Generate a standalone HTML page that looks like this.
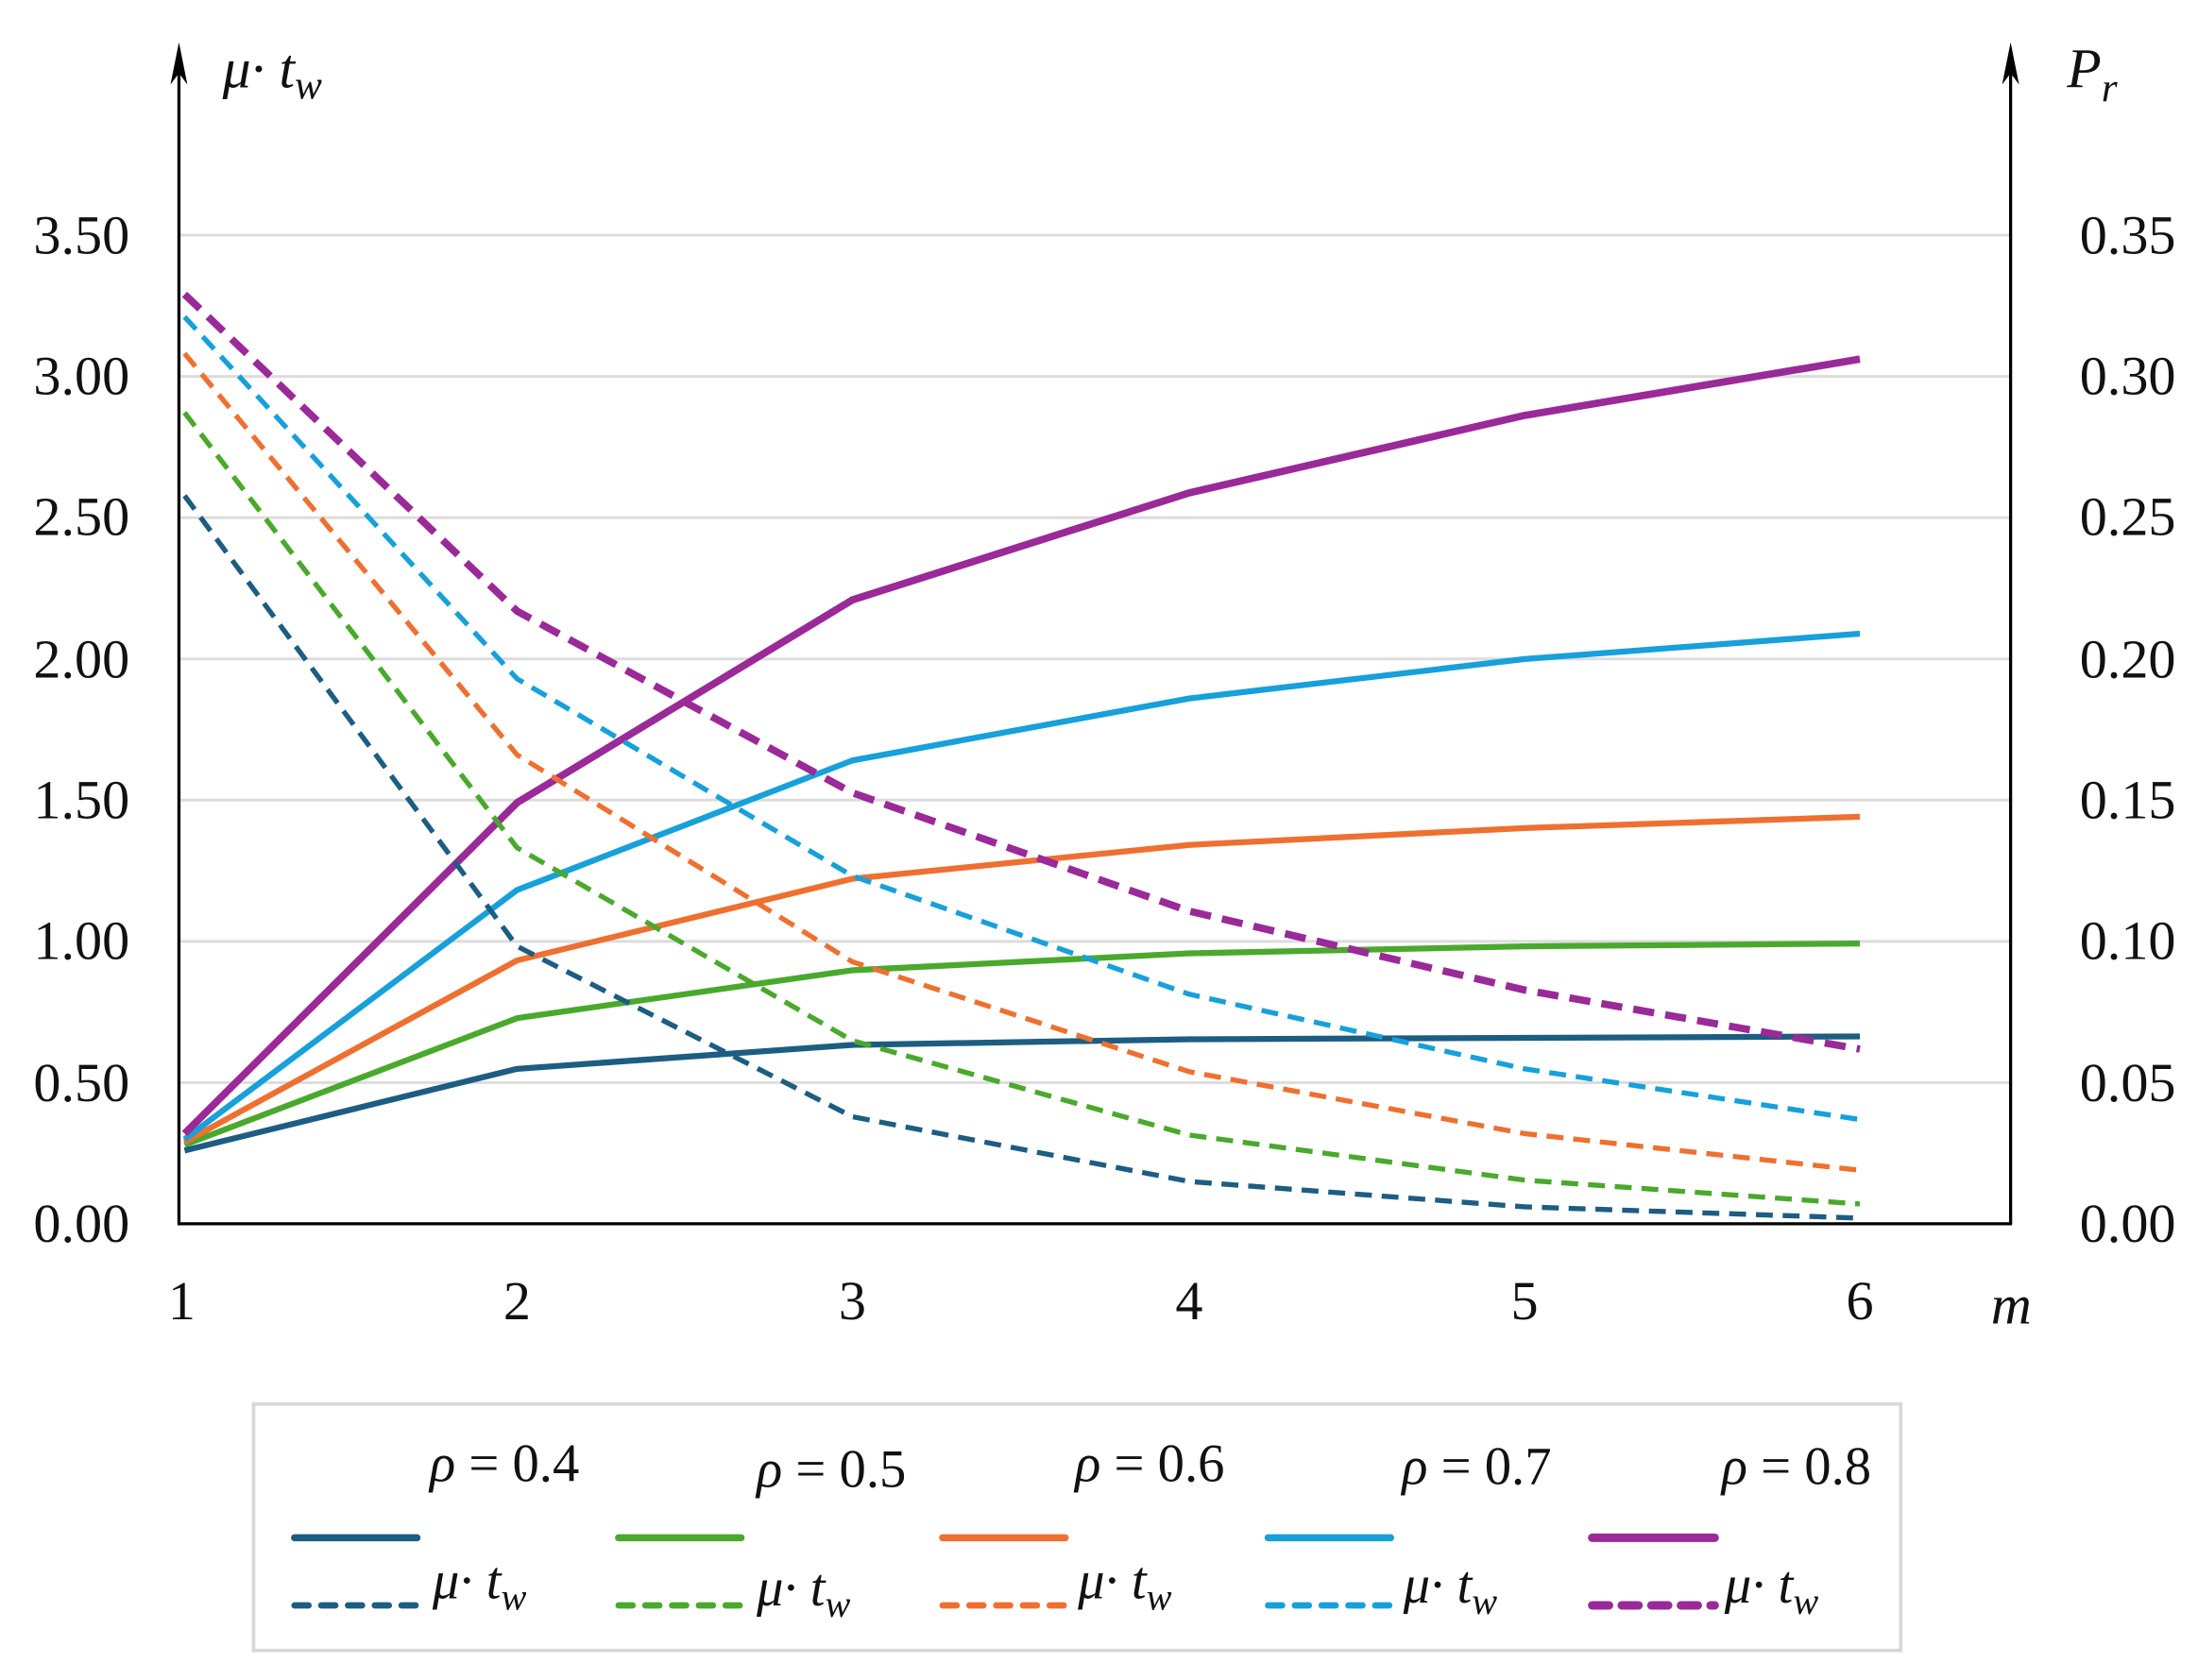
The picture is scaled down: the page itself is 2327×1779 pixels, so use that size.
<!DOCTYPE html>
<html><head><meta charset="utf-8"><style>
html,body{margin:0;padding:0;background:#fff;}
svg{display:block;}
text{font-family:"Liberation Serif",serif;fill:#111;}
</style></head><body>
<svg width="2327" height="1779" viewBox="0 0 1560 1193" preserveAspectRatio="none">
<g stroke="#dcdcdc" stroke-width="2">
<line x1="127" y1="167" x2="1427" y2="167"/>
<line x1="127" y1="267.3" x2="1427" y2="267.3"/>
<line x1="127" y1="367.6" x2="1427" y2="367.6"/>
<line x1="127" y1="467.9" x2="1427" y2="467.9"/>
<line x1="127" y1="568.2" x2="1427" y2="568.2"/>
<line x1="127" y1="668.5" x2="1427" y2="668.5"/>
<line x1="127" y1="768.8" x2="1427" y2="768.8"/>
</g>
<g stroke="#000" stroke-width="2.2" fill="none">
<line x1="127" y1="40" x2="127" y2="869"/>
<line x1="1427" y1="40" x2="1427" y2="869"/>
<line x1="126" y1="869" x2="1428" y2="869"/>
</g>
<polygon points="127,30 121,60 127,52 133,60" fill="#000"/>
<polygon points="1427,30 1421,60 1427,52 1433,60" fill="#000"/>
<g font-size="39" text-anchor="end">
<text x="92" y="180">3.50</text><text x="92" y="280">3.00</text><text x="92" y="380">2.50</text>
<text x="92" y="481">2.00</text><text x="92" y="581">1.50</text><text x="92" y="681">1.00</text>
<text x="92" y="782">0.50</text><text x="92" y="882">0.00</text>
</g>
<g font-size="39">
<text x="1476" y="180">0.35</text><text x="1476" y="280">0.30</text><text x="1476" y="380">0.25</text>
<text x="1476" y="481">0.20</text><text x="1476" y="581">0.15</text><text x="1476" y="681">0.10</text>
<text x="1476" y="782">0.05</text><text x="1476" y="882">0.00</text>
</g>
<g font-size="39" text-anchor="middle">
<text x="129" y="937">1</text><text x="367" y="937">2</text><text x="605" y="937">3</text>
<text x="844" y="937">4</text><text x="1082" y="937">5</text><text x="1320" y="937">6</text>
</g>
<text x="1413" y="940" font-size="40" font-style="italic">m</text>
<text x="158" y="62" font-size="40" font-style="italic">μ· t<tspan font-size="29" dy="8">w</tspan></text>
<text x="1467" y="62" font-size="40" font-style="italic">P<tspan font-size="29" dy="10">r</tspan></text>
<g fill="none" stroke-linejoin="round">
<polyline stroke="#1d5d82" stroke-width="4.2" points="131,817 367,759 605,742 844,738 1082,737 1320,736"/>
<polyline stroke="#4aa92d" stroke-width="4.2" points="131,813 367,723 605,689 844,677 1082,672 1320,670"/>
<polyline stroke="#ee7030" stroke-width="4.2" points="131,811 367,682 605,624 844,600 1082,588 1320,580"/>
<polyline stroke="#17a0da" stroke-width="4.2" points="131,809 367,632 605,540 844,496 1082,468 1320,450"/>
<polyline stroke="#9a2a98" stroke-width="5.2" points="131,805 367,570 605,426 844,350 1082,295 1320,255"/>
<polyline stroke="#1d5d82" stroke-width="3.6" stroke-dasharray="12,7" points="131,352 367,672 605,793 844,839 1082,857 1320,865"/>
<polyline stroke="#4aa92d" stroke-width="3.6" stroke-dasharray="12,7" points="131,293 367,602 605,739 844,806 1082,838 1320,855"/>
<polyline stroke="#ee7030" stroke-width="3.6" stroke-dasharray="12,7" points="131,251 367,536 605,683 844,761 1082,805 1320,831"/>
<polyline stroke="#17a0da" stroke-width="3.6" stroke-dasharray="12,7" points="131,225 367,482 605,622 844,706 1082,759 1320,795"/>
<polyline stroke="#9a2a98" stroke-width="5.2" stroke-dasharray="15,8" points="131,209 367,434 605,563 844,647 1082,703 1320,745"/>
</g>
<rect x="180" y="997" width="1169" height="175" fill="none" stroke="#d8d8d8" stroke-width="2.5"/>
<g font-size="38">
<text x="305" y="1052"><tspan font-style="italic">ρ</tspan> = 0.4</text>
<text x="537" y="1056"><tspan font-style="italic">ρ</tspan> = 0.5</text>
<text x="763" y="1052"><tspan font-style="italic">ρ</tspan> = 0.6</text>
<text x="995" y="1054"><tspan font-style="italic">ρ</tspan> = 0.7</text>
<text x="1222" y="1054"><tspan font-style="italic">ρ</tspan> = 0.8</text>
</g>
<g font-size="38" font-style="italic">
<text x="307" y="1135">μ· t<tspan font-size="27" dy="8">w</tspan></text>
<text x="537" y="1140">μ· t<tspan font-size="27" dy="8">w</tspan></text>
<text x="765" y="1135">μ· t<tspan font-size="27" dy="8">w</tspan></text>
<text x="996" y="1138">μ· t<tspan font-size="27" dy="8">w</tspan></text>
<text x="1224" y="1138">μ· t<tspan font-size="27" dy="8">w</tspan></text>
</g>
<g stroke-linecap="round" fill="none">
<line x1="209" y1="1092" x2="296" y2="1092" stroke="#1d5d82" stroke-width="5"/>
<line x1="439" y1="1092" x2="526" y2="1092" stroke="#4aa92d" stroke-width="5"/>
<line x1="669" y1="1092" x2="756" y2="1092" stroke="#ee7030" stroke-width="5"/>
<line x1="900" y1="1092" x2="987" y2="1092" stroke="#17a0da" stroke-width="5"/>
<line x1="1130" y1="1092" x2="1217" y2="1092" stroke="#9a2a98" stroke-width="6"/>
<line x1="209" y1="1140" x2="296" y2="1140" stroke="#1d5d82" stroke-width="4.5" stroke-dasharray="10,9"/>
<line x1="439" y1="1140" x2="526" y2="1140" stroke="#4aa92d" stroke-width="4.5" stroke-dasharray="10,9"/>
<line x1="669" y1="1140" x2="756" y2="1140" stroke="#ee7030" stroke-width="4.5" stroke-dasharray="10,9"/>
<line x1="900" y1="1140" x2="987" y2="1140" stroke="#17a0da" stroke-width="4.5" stroke-dasharray="10,9"/>
<line x1="1130" y1="1140" x2="1217" y2="1140" stroke="#9a2a98" stroke-width="6" stroke-dasharray="12,9"/>
</g>
</svg>
</body></html>
